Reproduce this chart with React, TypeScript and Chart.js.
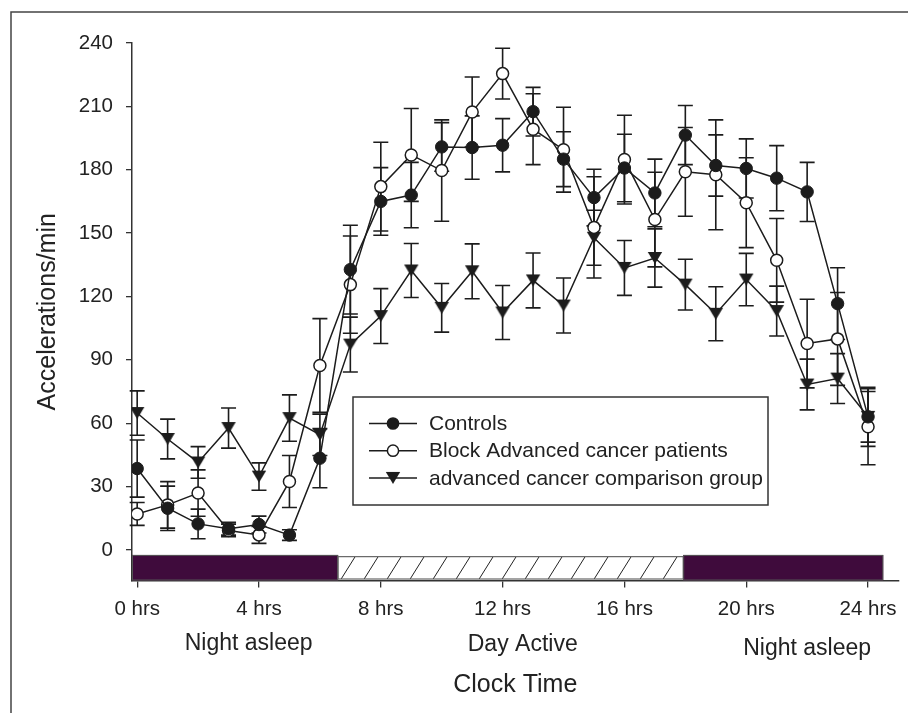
import React, { useEffect, useRef } from 'react';
import { Chart, registerables } from 'chart.js';

Chart.register(...registerables);

const hours = [0, 1, 2, 3, 4, 5, 6, 7, 8, 9, 10, 11, 12, 13, 14, 15, 16, 17, 18, 19, 20, 21, 22, 23, 24];

const seriesLabels = ['Controls', 'Block Advanced cancer patients', 'advanced cancer comparison group'];

const controls = [38.5, 19.7, 12.3, 10, 12, 7, 43.4, 132.7, 165, 168, 190.8, 190.5, 191.6, 207.5, 185, 166.8, 180.8, 169, 196.4, 182, 180.6, 176, 169.5, 116.6, 63];
const controlsErr = [13.5, 10.5, 7, 3, 4, 2.5, 14, 21, 16, 15.5, 11.5, 15, 12.6, 11.5, 13, 13.4, 16, 16, 14, 14.5, 14, 15.4, 14, 17, 14];

const blockPatients = [17, 21.3, 26.9, 9.2, 7.1, 32.4, 87.3, 125.6, 172, 187, 179.6, 207.3, 225.5, 199.2, 189.5, 152.7, 184.8, 156.4, 179, 177.6, 164.4, 137.1, 97.7, 99.9, 58.3];
const blockPatientsErr = [5.4, 11, 11, 3, 4, 12.3, 22.2, 23, 21, 22, 24, 16.6, 12, 16.8, 20.1, 24, 21, 22.4, 21, 26, 21.3, 19.8, 21, 22, 18];

const comparison = [64.8, 52.5, 41.4, 57.7, 34.7, 62.4, 54.5, 97.2, 110.7, 132.3, 114.6, 131.9, 112.4, 127.6, 115.7, 147.8, 133.5, 138.2, 125.6, 111.8, 128, 113.1, 78.3, 81.1, 63];
const comparisonErr = [10.5, 9.4, 7.5, 9.5, 6.5, 11, 9.8, 13, 13, 12.8, 11.5, 13, 12.8, 13, 13, 13, 13, 13.8, 12, 12.8, 12.4, 11.8, 12, 11.8, 12];

// light/dark periods shown under the x axis (start hour, end hour, kind)
const periodStarts = [-0.17, 6.6, 17.93];
const periodEnds = [6.6, 17.93, 24.5];
const periodKinds = ['night', 'day', 'night'];

// labels under the axis (text, hour position)
const periodLabels = ['Night asleep', 'Day Active', 'Night asleep'];
const periodLabelHours = [3.66, 12.66, 22.0];

const FONT = "'Liberation Sans', Arial, Helvetica, sans-serif";
const INK = '#1c1c1c';

function makeTriangle(): HTMLCanvasElement {
  const c = document.createElement('canvas');
  c.width = 18;
  c.height = 16;
  const g = c.getContext('2d')!;
  g.fillStyle = INK;
  g.beginPath();
  g.moveTo(1.8, 2);
  g.lineTo(16.2, 2);
  g.lineTo(9, 14);
  g.closePath();
  g.fill();
  return c;
}

const frameBorder = {
  id: 'frameBorder',
  beforeDraw(chart: any) {
    const ctx = chart.ctx;
    ctx.save();
    ctx.strokeStyle = '#444';
    ctx.lineWidth = 1.5;
    ctx.beginPath();
    ctx.moveTo(11, chart.height);
    ctx.lineTo(11, 12);
    ctx.lineTo(chart.width, 12);
    ctx.stroke();
    ctx.restore();
  },
};

const periodBars = {
  id: 'periodBars',
  beforeDatasetsDraw(chart: any) {
    const { ctx, scales } = chart;
    const x = scales.x;
    const y = scales.y;
    ctx.save();
    for (let i = 0; i < periodKinds.length; i++) {
      const x0 = x.getPixelForValue(periodStarts[i]);
      const x1 = x.getPixelForValue(periodEnds[i]);
      if (periodKinds[i] === 'night') {
        const yt = y.getPixelForValue(-2.4);
        const yb = y.getPixelForValue(y.min);
        ctx.fillStyle = '#3f0b3c';
        ctx.fillRect(x0, yt, x1 - x0, yb - yt);
        ctx.strokeStyle = '#555';
        ctx.lineWidth = 1;
        ctx.strokeRect(x0 + 0.5, yt + 0.5, x1 - x0 - 1, yb - yt - 1);
      } else {
        const yt = y.getPixelForValue(-3.2);
        const yb = y.getPixelForValue(y.min) - 1.5;
        ctx.fillStyle = '#fff';
        ctx.fillRect(x0, yt, x1 - x0, yb - yt);
        ctx.save();
        ctx.beginPath();
        ctx.rect(x0, yt, x1 - x0, yb - yt);
        ctx.clip();
        ctx.strokeStyle = '#222';
        ctx.lineWidth = 1;
        const h = yb - yt;
        for (let px = x0 - 20; px < x1 + 20; px += 23) {
          ctx.beginPath();
          ctx.moveTo(px, yb);
          ctx.lineTo(px + 14, yb - h);
          ctx.stroke();
        }
        ctx.restore();
        ctx.strokeStyle = '#666';
        ctx.lineWidth = 1.2;
        ctx.strokeRect(x0, yt, x1 - x0, yb - yt);
      }
    }
    ctx.restore();
  },
};

const errorBars = {
  id: 'errorBars',
  beforeDatasetsDraw(chart: any) {
    const { ctx, scales } = chart;
    const x = scales.x;
    const y = scales.y;
    ctx.save();
    ctx.strokeStyle = INK;
    ctx.lineWidth = 1.6;
    chart.data.datasets.forEach((ds: any) => {
      const errs: number[] = ds.errors;
      ds.data.forEach((pt: any, j: number) => {
        const px = x.getPixelForValue(pt.x);
        const yt = y.getPixelForValue(pt.y + errs[j]);
        const yb = y.getPixelForValue(pt.y - errs[j]);
        ctx.beginPath();
        ctx.moveTo(px, yt);
        ctx.lineTo(px, yb);
        ctx.moveTo(px - 7.5, yt);
        ctx.lineTo(px + 7.5, yt);
        ctx.moveTo(px - 7.5, yb);
        ctx.lineTo(px + 7.5, yb);
        ctx.stroke();
      });
    });
    ctx.restore();
  },
};

const boxLegend = {
  id: 'boxLegend',
  afterDatasetsDraw(chart: any) {
    const { ctx, chartArea } = chart;
    const left = chartArea.left + 221;
    const top = chartArea.top + 354;
    const w = 415;
    const h = 108;
    ctx.save();
    ctx.fillStyle = '#fff';
    ctx.fillRect(left, top, w, h);
    ctx.strokeStyle = '#333';
    ctx.lineWidth = 1.5;
    ctx.strokeRect(left, top, w, h);
    chart.data.datasets.forEach((ds: any, i: number) => {
      const cy = top + 26.5 + i * 27.2;
      ctx.strokeStyle = INK;
      ctx.lineWidth = 1.5;
      ctx.beginPath();
      ctx.moveTo(left + 16, cy);
      ctx.lineTo(left + 64, cy);
      ctx.stroke();
      const style = ds.pointStyle;
      const cx = left + 40;
      if (typeof style === 'string') {
        ctx.beginPath();
        ctx.arc(cx, cy, 5.6, 0, Math.PI * 2);
        ctx.fillStyle = ds.pointBackgroundColor;
        ctx.fill();
        ctx.strokeStyle = ds.pointBorderColor;
        ctx.lineWidth = 1.5;
        ctx.stroke();
      } else {
        ctx.drawImage(style, cx - style.width / 2, cy - style.height / 2);
      }
      ctx.fillStyle = '#222';
      ctx.font = `21px ${FONT}`;
      ctx.textBaseline = 'middle';
      ctx.textAlign = 'left';
      ctx.fillText(ds.label, left + 76, cy + 1);
    });
    ctx.restore();
  },
};

const periodText = {
  id: 'periodText',
  afterDraw(chart: any) {
    const { ctx, scales } = chart;
    const x = scales.x;
    const baselines = [649.5, 650.5, 654.5];
    ctx.save();
    ctx.fillStyle = '#222';
    ctx.font = `23px ${FONT}`;
    ctx.textAlign = 'center';
    ctx.textBaseline = 'alphabetic';
    periodLabels.forEach((t, i) => {
      ctx.fillText(t, x.getPixelForValue(periodLabelHours[i]), baselines[i]);
    });
    ctx.restore();
  },
};

export default function App() {
  const ref = useRef<HTMLCanvasElement | null>(null);

  useEffect(() => {
    document.body.style.margin = '0';
    const tri = makeTriangle();
    const mk = (vals: number[]) => vals.map((v, i) => ({ x: hours[i], y: v }));
    const chart = new Chart(ref.current!, {
      type: 'line',
      data: {
        datasets: [
          {
            label: seriesLabels[0],
            data: mk(controls),
            errors: controlsErr,
            borderColor: INK,
            borderWidth: 1.5,
            pointStyle: 'circle',
            pointRadius: 6.2,
            pointBackgroundColor: INK,
            pointBorderColor: INK,
            pointBorderWidth: 1,
            tension: 0,
          } as any,
          {
            label: seriesLabels[1],
            data: mk(blockPatients),
            errors: blockPatientsErr,
            borderColor: INK,
            borderWidth: 1.5,
            pointStyle: 'circle',
            pointRadius: 6,
            pointBackgroundColor: '#fff',
            pointBorderColor: INK,
            pointBorderWidth: 1.5,
            tension: 0,
          } as any,
          {
            label: seriesLabels[2],
            data: mk(comparison),
            errors: comparisonErr,
            borderColor: INK,
            borderWidth: 1.5,
            pointStyle: tri,
            pointRadius: 8,
            tension: 0,
          } as any,
        ],
      },
      options: {
        animation: false,
        responsive: false,
        devicePixelRatio: 1,
        layout: { padding: { left: 0, top: 43, right: 8, bottom: 0 } },
        plugins: {
          legend: { display: false },
          tooltip: { enabled: false },
        },
        scales: {
          x: {
            type: 'linear',
            min: -0.17,
            max: 25,
            afterFit: (s: any) => {
              s.height = 132.5;
            },
            ticks: {
              stepSize: 4,
              includeBounds: false,
              autoSkip: false,
              maxRotation: 0,
              color: '#222',
              padding: 10,
              font: { family: FONT, size: 20.5 },
              callback: (v: any) => `${v} hrs`,
            },
            grid: { drawOnChartArea: false, drawTicks: true, tickLength: 7, color: '#333', lineWidth: 1.3 },
            border: { display: true, color: '#333', width: 1.5 },
            title: {
              display: true,
              text: 'Clock Time',
              color: '#222',
              font: { family: FONT, size: 25 },
              padding: { top: 0, bottom: 13 },
            },
          },
          y: {
            type: 'linear',
            min: -14.5,
            max: 240,
            afterFit: (s: any) => {
              s.width = 132;
            },
            ticks: {
              stepSize: 30,
              includeBounds: false,
              color: '#222',
              padding: 13,
              font: { family: FONT, size: 20.5 },
            },
            grid: { drawOnChartArea: false, drawTicks: true, tickLength: 6, color: '#333', lineWidth: 1.3 },
            border: { display: true, color: '#333', width: 1.5 },
            title: {
              display: true,
              text: 'Accelerations/min',
              color: '#222',
              font: { family: FONT, size: 25 },
              padding: { top: 33, bottom: 0 },
            },
          },
        },
      },
      plugins: [frameBorder, periodBars, errorBars, boxLegend, periodText],
    } as any);
    return () => chart.destroy();
  }, []);

  return (
    <div style={{ width: 908, height: 713, position: 'relative' }}>
      <canvas ref={ref} width={908} height={713} style={{ display: 'block' }} />
    </div>
  );
}
